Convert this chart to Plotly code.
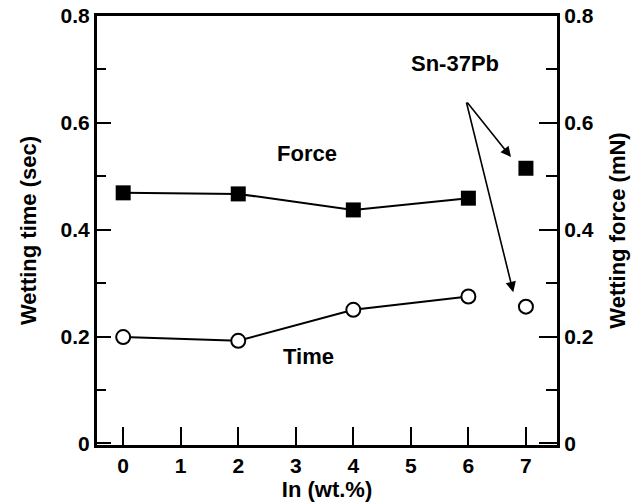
import plotly.graph_objects as go

# Data
in_content = [0, 2, 4, 6]
force_mN = [0.469, 0.467, 0.437, 0.459]
time_sec = [0.199, 0.192, 0.250, 0.275]
snpb_x = [7]
snpb_force = [0.515]
snpb_time = [0.256]

x_ticks = [0, 1, 2, 3, 4, 5, 6, 7]
y_ticks = [0, 0.2, 0.4, 0.6, 0.8]
y_ticktext = ["0", "0.2", "0.4", "0.6", "0.8"]

FONT = "Liberation Sans, Arial, Helvetica, sans-serif"

fig = go.Figure()

# Force (right axis)
fig.add_trace(go.Scatter(
    x=in_content, y=force_mN, mode="lines+markers", yaxis="y2",
    line=dict(color="black", width=2),
    marker=dict(symbol="square", size=15, color="black"),
    showlegend=False))
fig.add_trace(go.Scatter(
    x=snpb_x, y=snpb_force, mode="markers", yaxis="y2",
    marker=dict(symbol="square", size=15, color="black"),
    showlegend=False))

# Time (left axis)
fig.add_trace(go.Scatter(
    x=in_content, y=time_sec, mode="lines+markers",
    line=dict(color="black", width=2),
    marker=dict(symbol="circle", size=14, color="white",
                line=dict(color="black", width=2)),
    showlegend=False))
fig.add_trace(go.Scatter(
    x=snpb_x, y=snpb_time, mode="markers",
    marker=dict(symbol="circle", size=14, color="white",
                line=dict(color="black", width=2)),
    showlegend=False))

axis_font = dict(family=FONT, size=21, color="black")
title_font = dict(family=FONT, size=22, color="black")

fig.update_layout(
    width=642, height=504,
    margin=dict(l=97, r=85, t=16, b=59),
    paper_bgcolor="white", plot_bgcolor="white",
    font=dict(family=FONT, color="black"),
    xaxis=dict(
        range=[-0.455, 7.54], tickvals=x_ticks,
        ticktext=["<b>%d</b>" % v for v in x_ticks],
        showline=True, linecolor="black", linewidth=3, mirror=True,
        ticks="inside", ticklen=18, tickwidth=2, tickcolor="black",
        showgrid=False, zeroline=False, automargin=False,
        tickfont=axis_font,
        title=dict(text="<b>In (wt.%)</b>", font=title_font, standoff=2),
    ),
    yaxis=dict(
        range=[-0.003, 0.8], tickvals=y_ticks,
        ticktext=["<b>%s</b>" % t for t in y_ticktext],
        showline=True, linecolor="black", linewidth=3,
        ticks="inside", ticklen=14, tickwidth=2, tickcolor="black",
        minor=dict(tickvals=[0.1, 0.3, 0.5, 0.7], ticks="inside", ticklen=9,
                   tickwidth=2, tickcolor="black"),
        showgrid=False, zeroline=False, automargin=False,
        tickfont=axis_font,
        title=dict(text="<b>Wetting time (sec)</b>", font=title_font, standoff=18),
    ),
    yaxis2=dict(
        range=[-0.003, 0.8], tickvals=y_ticks,
        ticktext=["<b>%s</b>" % t for t in y_ticktext],
        overlaying="y", side="right",
        showline=True, linecolor="black", linewidth=3,
        ticks="inside", ticklen=18, tickwidth=2, tickcolor="black",
        minor=dict(tickvals=[0.1, 0.3, 0.5, 0.7], ticks="inside", ticklen=11,
                   tickwidth=2, tickcolor="black"),
        showgrid=False, zeroline=False, automargin=False,
        tickfont=axis_font,
        title=dict(text="<b>Wetting force (mN)</b>", font=title_font, standoff=17),
    ),
)

ann_font = dict(family=FONT, size=22, color="black")
fig.add_annotation(x=3.2, y=0.542, xref="x", yref="y", text="<b>Force</b>",
                   showarrow=False, font=ann_font)
fig.add_annotation(x=3.22, y=0.162, xref="x", yref="y", text="<b>Time</b>",
                   showarrow=False, font=ann_font)
fig.add_annotation(x=5.77, y=0.712, xref="x", yref="y", text="<b>Sn-37Pb</b>",
                   showarrow=False, font=ann_font)

# Arrows
for tx, ty in [(6.74, 0.536), (6.78, 0.283)]:
    fig.add_annotation(x=tx, y=ty, ax=5.96, ay=0.641, xref="x", yref="y",
                       axref="x", ayref="y", text="", showarrow=True,
                       arrowhead=2, arrowsize=1.3, arrowwidth=1.6,
                       arrowcolor="black", standoff=0, startstandoff=0)

fig.write_html("out.html", config={"displayModeBar": False},
               post_script="document.body.style.margin='0';document.body.style.overflow='hidden';")
